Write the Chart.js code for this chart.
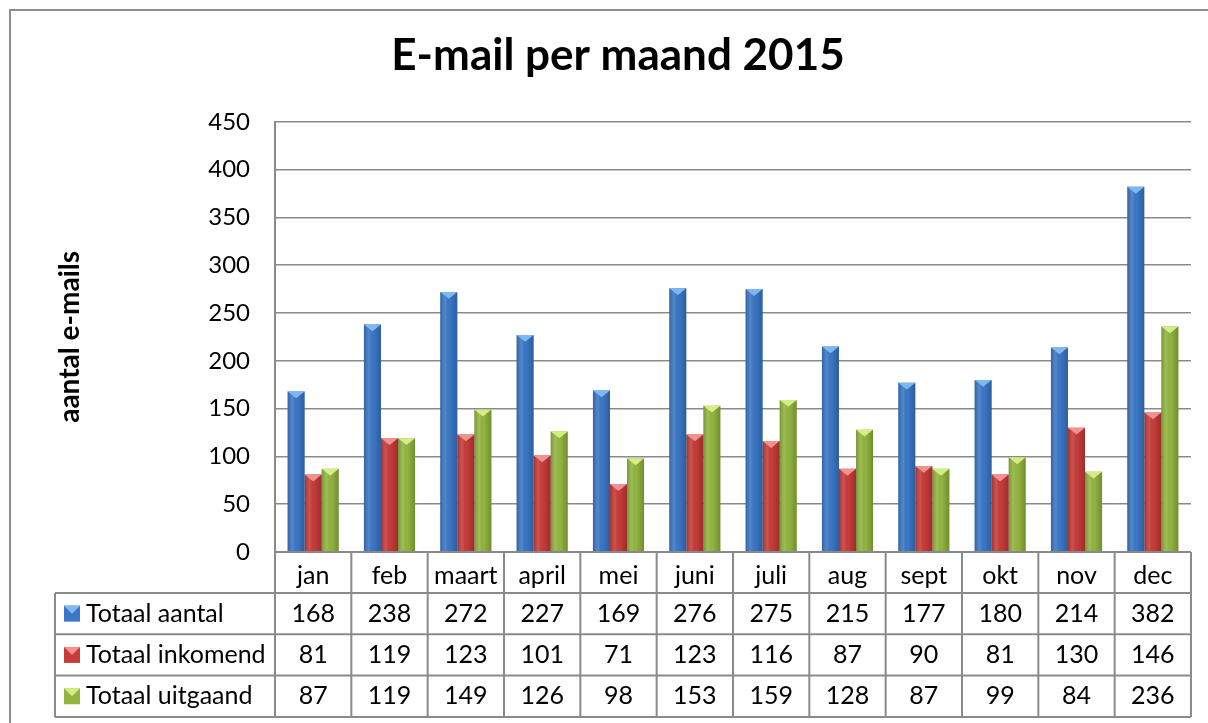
<!DOCTYPE html>
<html>
<head>
<meta charset="utf-8">
<script src="https://cdn.jsdelivr.net/npm/chart.js@4.4.0/dist/chart.umd.min.js"></script>
<style>
body { margin: 0; background: #fff; overflow: hidden; }
#wrap { position: relative; width: 1208px; height: 723px; }
#frame { position: absolute; left: 9px; top: 9px; width: 1300px; height: 800px; border: 2px solid #8d8d8d; box-sizing: border-box; }
#chart { position: absolute; left: 0; top: 0; }
</style>
</head>
<body>
<div id="wrap">
  <div id="frame"></div>
  <canvas id="chart" width="1208" height="723"></canvas>
</div>
<script>
// Data
const months = ['jan', 'feb', 'maart', 'april', 'mei', 'juni', 'juli', 'aug', 'sept', 'okt', 'nov', 'dec'];
const totaalAantal = [168, 238, 272, 227, 169, 276, 275, 215, 177, 180, 214, 382];
const totaalInkomend = [81, 119, 123, 101, 71, 123, 116, 87, 90, 81, 130, 146];
const totaalUitgaand = [87, 119, 149, 126, 98, 153, 159, 128, 87, 99, 84, 236];
const seriesNames = ['Totaal aantal', 'Totaal inkomend', 'Totaal uitgaand'];
const yMin = 0, yMax = 450, yStep = 50;

const FONT = 'Lato, "Liberation Sans", sans-serif';
const lineColor = '#8a8a8a';
const capColors = ['#7db9f0', '#f09290', '#d6ec86'];
const PAD_LEFT = 45;

// 3D-ish look of the bars: side shading and a light cap on top
const barShading = {
    id: 'barShading',
    afterDatasetsDraw(chart) {
        const ctx = chart.ctx;
        chart.data.datasets.forEach((ds, di) => {
            chart.getDatasetMeta(di).data.forEach(bar => {
                const x0 = bar.x - bar.width / 2, w = bar.width;
                const g = ctx.createLinearGradient(x0, 0, x0 + w, 0);
                g.addColorStop(0, 'rgba(0,0,0,0.18)');
                g.addColorStop(0.3, 'rgba(255,255,255,0.12)');
                g.addColorStop(0.55, 'rgba(0,0,0,0)');
                g.addColorStop(1, 'rgba(0,0,0,0.22)');
                ctx.save();
                ctx.fillStyle = g;
                ctx.fillRect(x0, bar.y, w, bar.base - bar.y);
                ctx.fillStyle = capColors[di];
                ctx.beginPath();
                ctx.moveTo(x0, bar.y);
                ctx.lineTo(x0 + w, bar.y);
                ctx.lineTo(bar.x, bar.y + w * 0.4);
                ctx.closePath();
                ctx.fill();
                ctx.restore();
            });
        });
    }
};

// Data table under the chart
const dataTable = {
    id: 'dataTable',
    afterDraw(chart) {
        const {ctx, chartArea, scales: {x}} = chart;
        const top = chartArea.bottom;
        const catH = 41, rowH = 41.3;
        const tableLeft = 55;
        const colW = (x.right - x.left) / months.length;
        const rowsTop = top + catH;
        const bottom = rowsTop + rowH * 3;
        ctx.save();
        ctx.strokeStyle = lineColor;
        ctx.lineWidth = 2;
        ctx.beginPath();
        // horizontal lines
        ctx.moveTo(x.left, top); ctx.lineTo(x.right, top);
        for (let r = 0; r <= 3; r++) {
            const y = rowsTop + r * rowH;
            ctx.moveTo(tableLeft, y); ctx.lineTo(x.right, y);
        }
        // vertical lines
        ctx.moveTo(tableLeft, rowsTop); ctx.lineTo(tableLeft, bottom);
        for (let c = 0; c <= months.length; c++) {
            const xx = x.left + c * colW;
            ctx.moveTo(xx, top); ctx.lineTo(xx, bottom);
        }
        ctx.stroke();

        ctx.font = '25px ' + FONT;
        ctx.fillStyle = '#000';
        ctx.textBaseline = 'middle';
        chart.data.datasets.forEach((ds, di) => {
            const cy = rowsTop + di * rowH + rowH / 2;
            // legend key
            const kx = 64, ks = 16;
            ctx.fillStyle = ds.backgroundColor;
            ctx.fillRect(kx, cy - ks / 2, ks, ks);
            ctx.fillStyle = capColors[di];
            ctx.beginPath();
            ctx.moveTo(kx, cy - ks / 2);
            ctx.lineTo(kx + ks, cy - ks / 2);
            ctx.lineTo(kx + ks / 2, cy);
            ctx.closePath();
            ctx.fill();
            ctx.fillStyle = '#000';
            ctx.textAlign = 'left';
            ctx.fillText(ds.label, kx + ks + 6, cy);
            ctx.textAlign = 'center';
            ds.data.forEach((v, i) => {
                ctx.fillText(String(v), x.getPixelForValue(i), cy);
            });
        });
        ctx.restore();
    }
};

new Chart(document.getElementById('chart'), {
    type: 'bar',
    data: {
        labels: months,
        datasets: [{
            label: seriesNames[0],
            data: totaalAantal,
            backgroundColor: '#3b77c6'
        }, {
            label: seriesNames[1],
            data: totaalInkomend,
            backgroundColor: '#c63c39'
        }, {
            label: seriesNames[2],
            data: totaalUitgaand,
            backgroundColor: '#92b540'
        }]
    },
    options: {
        responsive: false,
        animation: false,
        categoryPercentage: 0.67,
        barPercentage: 1.0,
        layout: { padding: { left: PAD_LEFT, right: 17, top: 0, bottom: 0 } },
        plugins: {
            legend: { display: false },
            tooltip: { enabled: false },
            title: {
                display: true,
                text: 'E-mail per maand 2015',
                color: '#000',
                font: { family: FONT, size: 44, weight: 'bold' },
                padding: { top: 29, bottom: 40 }
            }
        },
        scales: {
            x: {
                grid: { display: false },
                border: { display: false },
                ticks: { color: '#000', font: { family: FONT, size: 25 }, padding: 1 },
                afterFit: scale => { scale.height = 171; }
            },
            y: {
                min: yMin,
                max: yMax,
                ticks: { stepSize: yStep, color: '#000', font: { family: FONT, size: 24 }, padding: 25 },
                grid: { color: lineColor, lineWidth: 1.5, drawTicks: false },
                border: { color: lineColor, width: 2 },
                title: {
                    display: true,
                    text: 'aantal e-mails',
                    color: '#000',
                    font: { family: FONT, size: 28, weight: 'bold' },
                    padding: { top: 70 - PAD_LEFT - 17, bottom: 0 }
                },
                afterFit: scale => { scale.width = 275 - PAD_LEFT; }
            }
        }
    },
    plugins: [barShading, dataTable]
});
</script>
</body>
</html>
